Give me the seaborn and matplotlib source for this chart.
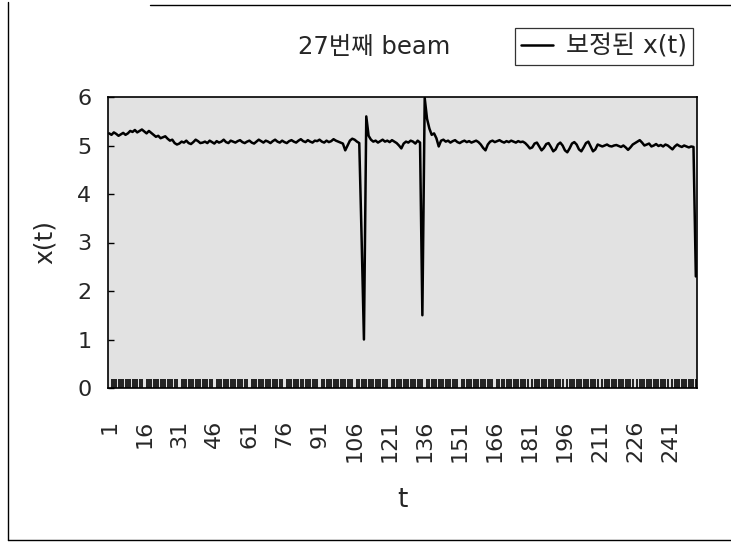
import matplotlib
matplotlib.use("Agg")
import matplotlib.pyplot as plt
import seaborn as sns
import pandas as pd
from matplotlib.lines import Line2D
from matplotlib.ticker import FixedLocator

sns.set_style("white")
plt.rcParams['font.family'] = ['DejaVu Sans', 'Noto Sans CJK KR']

title_text = "27번째 beam"
legend_label = "보정된 x(t)"
x_label = "t"
y_label = "x(t)"

x_values = [
    5.25, 5.22, 5.27, 5.24, 5.20, 5.23, 5.26, 5.22, 5.25, 5.30,
    5.28, 5.32, 5.27, 5.30, 5.33, 5.29, 5.25, 5.30, 5.26, 5.22,
    5.18, 5.20, 5.15, 5.17, 5.19, 5.14, 5.10, 5.12, 5.05, 5.02,
    5.04, 5.08, 5.06, 5.10, 5.05, 5.03, 5.07, 5.12, 5.09, 5.05,
    5.06, 5.08, 5.05, 5.10, 5.07, 5.04, 5.09, 5.06, 5.08, 5.12,
    5.07, 5.05, 5.10, 5.08, 5.06, 5.09, 5.11, 5.07, 5.05, 5.08,
    5.10, 5.06, 5.04, 5.08, 5.12, 5.09, 5.06, 5.10, 5.08, 5.05,
    5.09, 5.12, 5.08, 5.06, 5.10, 5.07, 5.05, 5.09, 5.11, 5.08,
    5.06, 5.10, 5.13, 5.09, 5.07, 5.11, 5.08, 5.06, 5.10, 5.09,
    5.12, 5.08, 5.06, 5.10, 5.07, 5.09, 5.13, 5.10, 5.08, 5.06,
    5.04, 4.90, 5.00, 5.10, 5.14, 5.12, 5.08, 5.05, 3.10, 1.00,
    5.60, 5.20, 5.12, 5.08, 5.10, 5.06, 5.09, 5.12, 5.08, 5.10,
    5.07, 5.11, 5.08, 5.05, 5.00, 4.94, 5.04, 5.08, 5.06, 5.10,
    5.08, 5.04, 5.10, 5.06, 1.50, 5.98, 5.55, 5.35, 5.22, 5.25,
    5.15, 4.98, 5.10, 5.12, 5.08, 5.10, 5.06, 5.09, 5.11, 5.07,
    5.05, 5.08, 5.10, 5.07, 5.09, 5.06, 5.08, 5.10, 5.07, 5.02,
    4.95, 4.90, 5.02, 5.08, 5.10, 5.07, 5.09, 5.11, 5.08, 5.06,
    5.09, 5.07, 5.10, 5.08, 5.06, 5.09, 5.07, 5.08, 5.05, 5.00,
    4.94, 4.96, 5.04, 5.06, 4.98, 4.90, 4.95, 5.03, 5.05, 4.97,
    4.88, 4.92, 5.02, 5.06, 5.00, 4.90, 4.86, 4.94, 5.04, 5.07,
    5.02, 4.92, 4.88, 4.96, 5.05, 5.08, 4.98, 4.88, 4.92, 5.02,
    5.00, 4.98, 5.00, 5.02, 4.99, 4.98, 5.00, 5.01, 4.99, 4.97,
    5.00, 4.96, 4.91, 4.96, 5.02, 5.05, 5.08, 5.11, 5.06, 5.00,
    5.02, 5.04, 4.98, 5.00, 5.03, 4.99, 5.01, 4.98, 5.02, 5.00,
    4.96, 4.92, 4.98, 5.02, 4.99, 4.97, 5.00, 4.98, 4.96, 4.98,
    4.97, 2.30,
]
t_values = list(range(1, len(x_values) + 1))
tick_labels = [1, 16, 31, 46, 61, 76, 91, 106, 121, 136, 151, 166, 181, 196, 211, 226, 241]
y_ticks = [0, 1, 2, 3, 4, 5, 6]

df = pd.DataFrame({"t": t_values, "x": x_values})

W, H = 731, 544
fig = plt.figure(figsize=(W / 100, H / 100), dpi=100)
ax = fig.add_axes([108 / W, 1 - 388 / H, (697 - 108) / W, (388 - 97) / H])
ax.set_facecolor("#e2e2e2")

sns.lineplot(data=df, x="t", y="x", ax=ax, color="black", linewidth=1.8,
             label=legend_label, legend=False)

ax.set_xlim(0.5, len(x_values) + 0.5)
ax.set_ylim(0, 6)
ax.set_yticks(y_ticks)
ax.set_yticklabels([str(v) for v in y_ticks], fontsize=16)
ax.set_xticks(tick_labels)
ax.set_xticklabels([str(v) for v in tick_labels], rotation=90, fontsize=16)
ax.xaxis.set_minor_locator(FixedLocator(t_values))
ax.tick_params(axis="x", which="major", length=0, pad=23)
ax.tick_params(axis="x", which="minor", direction="in", length=6.5, width=1.2,
               color="black", bottom=True)
ax.tick_params(axis="y", which="major", direction="in", length=4, width=1,
               color="black", left=True, pad=12)

for s in ax.spines.values():
    s.set_color("black")
    s.set_linewidth(1.2)

ax.set_xlabel(x_label, fontsize=19)
ax.set_ylabel(y_label, fontsize=18)
ax.xaxis.set_label_coords(0.5, -(487 - 388) / (388 - 97))
ax.yaxis.set_label_coords(-(108 - 57) / (697 - 108), 0.5)

fig.text(374 / W, 1 - 47 / H, title_text, fontsize=17.5, ha="center", va="center")

handles, labels = ax.get_legend_handles_labels()
leg = fig.legend(handles, labels, loc="upper right",
                 bbox_to_anchor=(693 / W, 1 - 28 / H), fontsize=18,
                 frameon=True, fancybox=False, shadow=False,
                 handlelength=1.3, handletextpad=0.5, borderpad=0.25,
                 borderaxespad=0)
leg.get_frame().set_edgecolor("black")
leg.get_frame().set_linewidth(0.9)

# outer frame of the scanned figure (left, bottom, partial top)
fig.add_artist(Line2D([8 / W, 8 / W], [1 - 540 / H, 1 - 2 / H], transform=fig.transFigure,
                      color="black", linewidth=1.0))
fig.add_artist(Line2D([8 / W, 1.0], [1 - 540 / H, 1 - 540 / H], transform=fig.transFigure,
                      color="black", linewidth=1.0))
fig.add_artist(Line2D([150 / W, 1.0], [1 - 5 / H, 1 - 5 / H], transform=fig.transFigure,
                      color="black", linewidth=1.0))

fig.savefig("out.png", dpi=100)
